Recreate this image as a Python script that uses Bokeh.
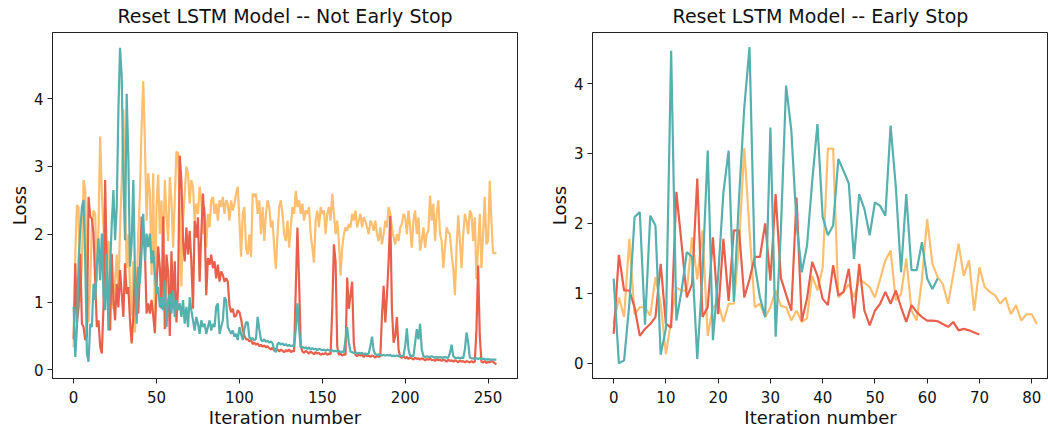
from bokeh.plotting import figure
from bokeh.layouts import row
from bokeh.models import Range1d
from bokeh.embed import file_html
from bokeh.resources import INLINE

# ---------------- data: left panel (Not Early Stop) ----------------
red_left = [
    0.45, 1.57, 0.70, 0.92, 1.71, 0.68, 0.63, 0.44, 0.49, 2.55,
    2.26, 2.23, 2.00, 1.32, 0.63, 0.73, 0.34, 0.24, 0.92, 2.80,
    1.52, 0.88, 0.58, 1.71, 1.03, 0.73, 1.27, 0.92, 1.47, 1.12,
    0.78, 1.57, 1.12, 1.22, 0.73, 0.39, 0.78, 1.52, 1.03, 0.83,
    1.52, 2.26, 2.00, 1.76, 0.83, 0.98, 0.83, 1.03, 0.80, 0.54,
    1.20, 1.82, 1.50, 0.90, 2.26, 0.60, 1.70, 1.45, 0.50, 1.75,
    0.90, 1.60, 0.70, 1.20, 3.16, 2.80, 1.90, 1.60, 2.10, 1.70,
    2.05, 1.60, 0.90, 2.20, 1.95, 2.25, 1.30, 2.00, 2.60, 2.20,
    1.10, 1.65, 1.55, 1.70, 1.50, 1.60, 1.35, 1.55, 1.30, 1.45,
    1.40, 1.30, 1.35, 1.30, 0.95, 0.85, 0.90, 0.78, 0.80, 0.88,
    0.85, 0.75, 0.60, 0.50, 0.45, 0.45, 0.42, 0.44, 0.38, 0.40,
    0.37, 0.39, 0.35, 0.37, 0.34, 0.36, 0.33, 0.35, 0.32, 0.30,
    0.33, 0.28, 0.31, 0.30, 0.27, 0.30, 0.28, 0.26, 0.29, 0.27,
    0.30, 0.26, 0.28, 0.27, 1.20, 2.10, 1.30, 0.35, 0.27, 0.25,
    0.28, 0.26, 0.24, 0.27, 0.25, 0.23, 0.26, 0.24, 0.25, 0.22,
    0.24, 0.23, 0.25, 0.22, 0.24, 0.23, 0.90, 1.85, 1.60, 0.35,
    0.22, 0.24, 0.21, 0.23, 0.22, 1.36, 0.90, 1.10, 1.30, 0.40,
    0.22, 0.20, 0.23, 0.21, 0.22, 0.19, 0.22, 0.20, 0.21, 0.19,
    0.21, 0.20, 0.18, 0.21, 0.19, 0.20, 0.80, 1.24, 0.70, 1.10,
    1.60, 2.27, 0.90, 0.40, 0.50, 0.78, 0.30, 0.19, 0.18, 0.20,
    0.17, 0.19, 0.16, 0.18, 0.17, 0.15, 0.18, 0.16, 0.17, 0.15,
    0.17, 0.16, 0.14, 0.16, 0.15, 0.17, 0.14, 0.15, 0.13, 0.16,
    0.14, 0.15, 0.13, 0.15, 0.14, 0.12, 0.15, 0.13, 0.14, 0.12,
    0.14, 0.13, 0.11, 0.14, 0.12, 0.13, 0.11, 0.13, 0.12, 0.11,
    0.13, 0.11, 0.12, 0.60, 1.54, 0.50, 0.12, 0.11, 0.13, 0.10,
    0.12, 0.11, 0.13, 0.12, 0.10, 0.08,
]

teal_left = [
    0.93, 0.19, 0.63, 1.61, 2.06, 2.40, 2.50, 1.61, 0.24, 0.12,
    0.68, 0.63, 1.27, 1.03, 1.52, 1.94, 1.32, 2.01, 1.12, 0.88,
    1.71, 0.58, 1.52, 2.16, 2.65, 1.91, 2.40, 3.83, 4.75, 4.32,
    2.84, 1.91, 4.07, 3.14, 1.52, 1.86, 2.80, 1.42, 0.68, 1.52,
    1.27, 1.76, 2.30, 1.61, 2.01, 1.81, 2.01, 1.57, 1.76, 1.42,
    1.12, 1.22, 0.92, 1.07, 0.88, 1.32, 0.63, 1.03, 1.12, 0.83,
    1.17, 0.78, 1.03, 0.88, 0.98, 0.78, 1.03, 0.68, 0.93, 0.63,
    1.07, 0.88, 0.73, 0.58, 0.78, 0.68, 0.53, 0.73, 0.63, 0.68,
    0.53, 0.63, 0.73, 0.58, 0.68, 0.63, 0.93, 0.98, 0.53, 0.63,
    0.73, 1.07, 1.03, 0.63, 0.58, 0.53, 0.58, 0.49, 0.53, 0.44,
    0.63, 0.53, 0.44, 0.60, 0.70, 0.70, 0.48, 0.45, 0.47, 0.43,
    0.46, 0.78, 0.60, 0.44, 0.42, 0.45, 0.41, 0.43, 0.40, 0.42,
    0.39, 0.30, 0.26, 0.38, 0.40, 0.37, 0.39, 0.36, 0.38, 0.35,
    0.37, 0.35, 0.36, 0.34, 0.60, 0.98, 0.60, 0.33, 0.34, 0.32,
    0.33, 0.31, 0.33, 0.30, 0.32, 0.30, 0.31, 0.29, 0.31, 0.30,
    0.29, 0.30, 0.28, 0.30, 0.29, 0.28, 0.29, 0.27, 0.28, 0.27,
    0.28, 0.26, 0.27, 0.26, 0.45, 0.63, 0.40, 0.27, 0.26, 0.25,
    0.26, 0.24, 0.25, 0.24, 0.25, 0.23, 0.24, 0.23, 0.24, 0.35,
    0.49, 0.28, 0.23, 0.22, 0.23, 0.22, 0.21, 0.22, 0.21, 0.22,
    0.21, 0.22, 0.20, 0.21, 0.20, 0.21, 0.20, 0.21, 0.20, 0.21,
    0.35, 0.61, 0.30, 0.20, 0.21, 0.20, 0.40, 0.60, 0.45, 0.68,
    0.30, 0.20, 0.19, 0.20, 0.19, 0.19, 0.20, 0.19, 0.18, 0.19,
    0.18, 0.19, 0.18, 0.18, 0.19, 0.18, 0.18, 0.25, 0.37, 0.20,
    0.18, 0.17, 0.18, 0.17, 0.18, 0.17, 0.30, 0.55, 0.40, 0.18,
    0.17, 0.17, 0.16, 0.17, 0.16, 0.17, 0.16, 0.16, 0.16, 0.15,
    0.16, 0.15, 0.15, 0.15, 0.15, 0.15,
]

orange_left = [
    0.33, 1.70, 2.43, 2.40, 1.00, 1.60, 2.80, 2.65, 1.20, 0.70,
    1.30, 2.10, 2.35, 2.30, 1.30, 2.10, 3.44, 2.60, 2.10, 1.60,
    1.20, 1.90, 1.80, 1.00, 0.90, 1.30, 1.70, 1.10, 2.10, 2.80,
    3.84, 2.40, 1.50, 2.00, 1.20, 0.80, 1.60, 0.55, 1.10, 2.00,
    2.60, 3.60, 4.26, 3.34, 2.20, 2.90, 2.60, 1.40, 2.90, 0.65,
    2.40, 2.88, 2.00, 2.50, 1.60, 2.80, 2.30, 1.90, 2.84, 2.50,
    1.80, 2.50, 3.22, 3.20, 2.30, 1.23, 2.20, 2.60, 3.00, 2.90,
    2.45, 2.80, 2.70, 2.20, 2.45, 2.30, 2.70, 2.50, 2.00, 2.40,
    1.80, 2.30, 2.10, 2.50, 2.55, 2.30, 2.45, 2.20, 2.50, 2.40,
    2.55, 2.30, 2.50, 2.45, 2.20, 2.50, 2.35, 2.45, 2.60, 2.70,
    2.20, 1.67, 2.30, 2.40, 1.80, 1.70, 2.00, 1.66, 2.60, 2.55,
    2.60, 2.30, 2.50, 2.00, 2.40, 1.90, 2.30, 2.50, 2.40, 2.10,
    2.20, 1.80, 1.49, 2.00, 2.40, 2.50, 2.30, 2.00, 1.90, 2.20,
    1.80, 2.10, 2.40, 2.30, 2.64, 2.40, 2.50, 2.30, 2.45, 2.20,
    2.35, 2.30, 2.40, 2.00, 1.80, 1.58, 2.20, 2.35, 2.10, 2.40,
    2.30, 2.35, 2.00, 2.30, 2.40, 2.20, 2.60, 2.30, 2.00, 2.20,
    1.90, 1.39, 1.80, 2.00, 2.10, 2.05, 2.15, 2.10, 2.30, 2.20,
    2.35, 2.10, 2.20, 2.30, 2.10, 2.25, 2.20, 2.10, 2.00, 2.20,
    2.15, 2.05, 2.20, 2.00, 1.90, 2.10, 1.85, 2.00, 2.20, 2.10,
    2.40, 2.30, 2.10, 1.95, 1.85, 2.00, 1.90, 2.10, 2.15, 2.30,
    2.25, 2.00, 2.35, 2.10, 1.80, 2.20, 2.35, 2.00, 2.25, 1.76,
    1.90, 2.10, 1.80, 2.00, 2.05, 2.57, 2.20, 2.45, 1.90, 2.30,
    2.50, 2.00, 1.90, 1.50, 1.80, 2.10, 2.03, 2.00, 1.70, 1.50,
    1.10, 1.80, 2.28, 1.90, 1.50, 2.00, 2.30, 2.20, 2.00, 2.35,
    2.30, 1.90, 2.25, 1.34, 1.80, 2.30, 1.50, 2.00, 2.55, 1.85,
    1.90, 2.79, 2.20, 1.72, 1.72, 1.72,
]

# ---------------- data: right panel (Early Stop) ----------------
red_right = [
    0.42, 1.55, 1.04, 1.04, 0.80, 0.39, 0.49, 0.56, 0.66, 1.42,
    0.56, 0.51, 2.45, 1.71, 0.94, 1.13, 2.64, 0.66, 0.80, 1.80,
    0.70, 1.78, 0.89, 1.90, 1.90, 0.94, 1.20, 1.52, 1.52, 2.00,
    1.18, 2.42, 1.22, 0.98, 0.75, 2.37, 0.60, 0.92, 1.45, 1.25,
    0.92, 0.83, 1.40, 0.97, 1.02, 1.35, 0.64, 1.42, 0.75, 0.54,
    0.75, 0.85, 1.02, 0.85, 1.04, 0.80, 0.59, 0.83, 0.73, 0.66,
    0.61, 0.61, 0.60, 0.56, 0.52, 0.59, 0.47, 0.49, 0.47, 0.44,
    0.41,
]

teal_right = [
    1.21, 0.00, 0.04, 0.85, 2.09, 2.16, 0.55, 2.11, 1.97, 0.12,
    0.50, 4.47, 0.61, 1.04, 1.59, 1.52, 0.06, 1.28, 3.04, 0.33,
    1.25, 2.44, 3.04, 0.88, 2.37, 3.66, 4.52, 1.41, 0.94, 0.66,
    3.37, 0.38, 1.90, 3.97, 3.33, 2.00, 1.30, 1.68, 2.60, 3.42,
    2.09, 1.83, 1.97, 2.92, 2.75, 2.57, 1.49, 2.42, 2.20, 1.83,
    2.30, 2.25, 2.11, 3.40, 2.52, 1.30, 2.42, 1.33, 1.33, 1.73,
    1.21, 1.06, 1.21,
]

orange_right = [
    0.56, 0.94, 0.66, 1.78, 0.70, 0.80, 0.80, 0.68, 1.23, 0.85,
    0.13, 0.61, 1.08, 1.04, 1.04, 1.80, 1.20, 1.90, 0.39, 0.80,
    0.85, 0.59, 0.85, 0.85, 1.70, 3.08, 1.90, 0.80, 0.85, 0.66,
    0.80, 1.04, 0.82, 0.80, 0.61, 0.75, 0.59, 0.64, 1.25, 1.04,
    1.37, 3.07, 3.07, 0.94, 1.02, 1.13, 0.94, 1.20, 1.15, 1.09,
    0.94, 1.20, 1.47, 1.61, 0.90, 0.99, 1.50, 0.75, 0.61, 1.20,
    2.06, 1.42, 1.23, 1.13, 0.85, 1.27, 1.71, 1.25, 1.47, 0.75,
    1.37, 1.09, 1.02, 0.97, 0.85, 0.94, 0.70, 0.83, 0.61, 0.70,
    0.70, 0.56,
]

left_title = "Reset LSTM Model -- Not Early Stop"
right_title = "Reset LSTM Model -- Early Stop"
x_label = "Iteration number"
y_label = "Loss"
left_xticks = [0, 50, 100, 150, 200, 250]
right_xticks = [0, 10, 20, 30, 40, 50, 60, 70, 80]
yticks = [0, 1, 2, 3, 4]

RED = "#e8604c"
TEAL = "#56b0ad"
ORANGE = "#fdbf6f"
FONT = "DejaVu Sans"


def style(p, title, xticks):
    p.title.text = title
    p.title.align = "center"
    p.title.vertical_align = "top"
    p.title.text_font = FONT
    p.title.text_font_size = "19px"
    p.title.text_font_style = "normal"
    p.title.text_color = "#111111"
    p.title.standoff = 8
    p.grid.visible = False
    p.outline_line_color = "#222222"
    p.outline_line_width = 1
    p.xaxis.ticker = xticks
    p.yaxis.ticker = yticks
    for ax in (p.xaxis, p.yaxis):
        ax.axis_line_color = "#222222"
        ax.major_tick_line_color = "#222222"
        ax.major_tick_out = 5
        ax.major_tick_in = 0
        ax.minor_tick_line_color = None
        ax.major_label_text_font = FONT
        ax.major_label_text_font_size = "15px"
        ax.major_label_text_color = "#111111"
        ax.axis_label_text_font = FONT
        ax.axis_label_text_font_size = "18px"
        ax.axis_label_text_font_style = "normal"
        ax.axis_label_text_color = "#111111"
    p.xaxis.major_label_standoff = 7
    p.xaxis.axis_label_standoff = 1
    p.yaxis.major_label_standoff = 4
    p.yaxis.axis_label_standoff = 1
    p.xaxis.axis_label = x_label
    p.yaxis.axis_label = y_label


def add_lines(p, red, teal, orange):
    p.line(list(range(len(orange))), orange, line_color=ORANGE, line_width=2.2)
    p.line(list(range(len(red))), red, line_color=RED, line_width=2.2)
    p.line(list(range(len(teal))), teal, line_color=TEAL, line_width=2.2)


p1 = figure(frame_width=465, frame_height=346, output_backend="svg",
            toolbar_location=None,
            x_range=Range1d(-12.75, 267.75), y_range=Range1d(-0.128, 4.975),
            min_border_left=52, min_border_right=3, min_border_top=32,
            min_border_bottom=0)
style(p1, left_title, left_xticks)
add_lines(p1, red_left, teal_left, orange_left)

p2 = figure(frame_width=456, frame_height=346, output_backend="svg",
            toolbar_location=None,
            x_range=Range1d(-4.05, 83.22), y_range=Range1d(-0.219, 4.73),
            min_border_left=72, min_border_right=0, min_border_top=32,
            min_border_bottom=0)
style(p2, right_title, right_xticks)
add_lines(p2, red_right, teal_right, orange_right)

layout = row(p1, p2)
open("out.html", "w").write(file_html(layout, INLINE))
